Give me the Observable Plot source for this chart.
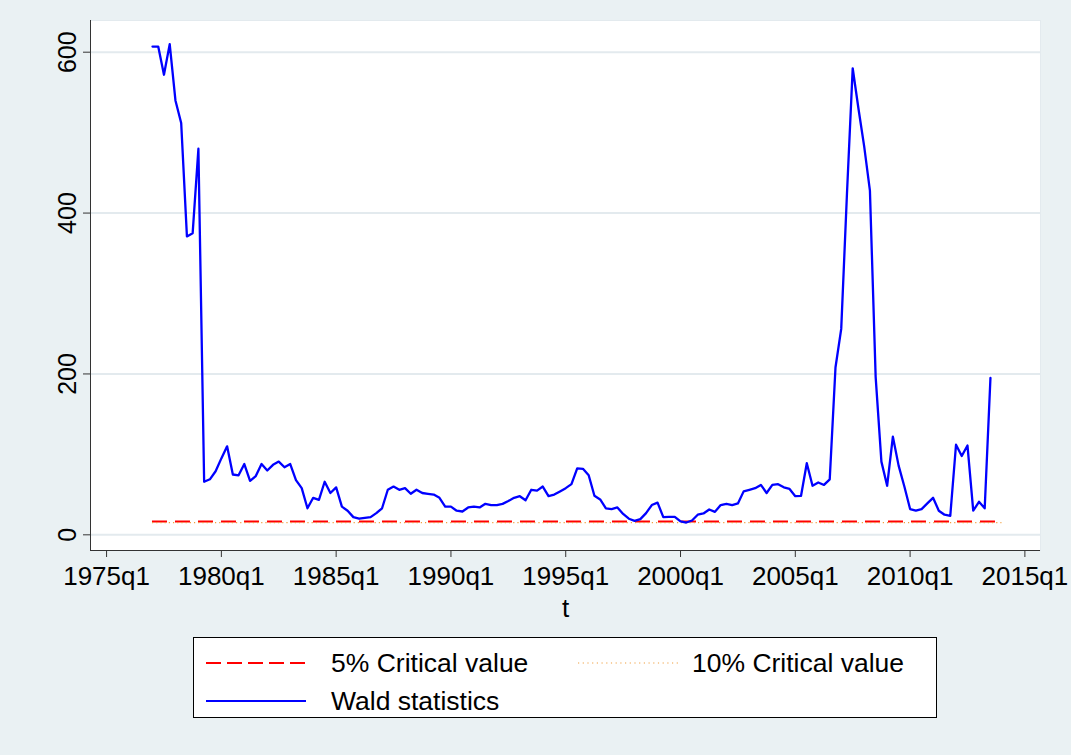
<!DOCTYPE html>
<html>
<head>
<meta charset="utf-8">
<script src="https://cdn.jsdelivr.net/npm/d3@7"></script>
<script src="https://cdn.jsdelivr.net/npm/@observablehq/plot@0.6"></script>
<style>
  html, body { margin: 0; padding: 0; background: #eaf1f3; }
  body { width: 1071px; height: 755px; overflow: hidden; position: relative; font-family: "Liberation Sans", Arial, sans-serif; }
  #chart { position: absolute; left: 0; top: 0; }
  #legend { position: absolute; left: 193px; top: 637px; width: 744px; height: 81px; box-sizing: border-box; border: 1px solid #000; background: #fff; }
  .item { position: absolute; height: 30px; display: flex; align-items: center; font-size: 26.5px; color: #000; white-space: nowrap; }
  .item svg { display: block; }
</style>
</head>
<body>
<div id="chart"></div>
<div id="legend"></div>
<script>
// ---- data ----
const waldStartYear = 1977;      // first observation: 1977q1
const waldStartQuarter = 1;
const waldValues = [
  607, 607, 572, 610, 540, 512, 371, 375, 480, 66,
  69, 79, 95, 110, 75, 74, 88, 67, 73, 88,
  80, 87, 91, 84, 88, 68, 58, 33, 46, 43.5,
  66, 52, 59, 35, 30, 22, 20, 21, 22, 27,
  33, 56, 60, 56, 58, 51, 56, 52, 51, 50,
  46, 35, 35, 30, 29, 34, 35, 34, 38.5, 37,
  37, 38.5, 42, 46, 48, 43, 56, 55, 60, 48,
  50, 54, 58, 63, 82.5, 82, 74, 48.5, 44, 33,
  32, 34, 26, 20, 17.4, 19.5, 27, 37, 40, 22,
  22.4, 22.4, 16.6, 15.3, 17.8, 25, 26.5, 31.5, 28.6, 37,
  38.5, 37, 39, 54, 56, 58, 62, 52, 62, 63,
  59, 57, 48, 48.5, 89, 61, 65, 62, 69, 208,
  256, 424, 580, 530, 483, 428, 196, 91, 61, 122,
  86, 60, 32, 30, 32, 39, 46, 30, 25, 23.6,
  112, 98, 111, 30, 41, 33, 195
];
const critStartYear = 1977;   // critical value lines span 1977q1 .. 2014q1
const critEndYear = 2014;
const crit5 = 16.5;
const crit10 = 15.2;
const xTickYears = [1975, 1980, 1985, 1990, 1995, 2000, 2005, 2010, 2015];
const yTicks = [0, 200, 400, 600];
const seriesNames = ["5% Critical value", "10% Critical value", "Wald statistics"];
const seriesColors = ["#ff0000", "#f0a040", "#0000ff"];

// ---- derived tables ----
const wald = waldValues.map((v, i) => ({
  t: waldStartYear + (waldStartQuarter - 1 + i) / 4,
  v
}));
const critRows = [
  {x1: critStartYear, x2: critEndYear, y: crit5, s: seriesNames[0]},
  {x1: critStartYear, x2: critEndYear, y: crit10, s: seriesNames[1]}
];

const chart = Plot.plot({
  width: 1071,
  height: 625,
  marginLeft: 90,
  marginRight: 31,
  marginTop: 20,
  marginBottom: 75,
  style: {background: "transparent", fontFamily: "Liberation Sans, Arial, sans-serif", color: "#000"},
  x: {domain: [1974.30, 2015.68]},
  y: {domain: [-19.5, 639.4]},
  marks: [
    Plot.frame({fill: "#ffffff", stroke: "#e3eaee"}),
    Plot.gridY(yTicks, {stroke: "#e3eaee", strokeOpacity: 1, strokeWidth: 2}),
    Plot.ruleX([1974.30], {stroke: "#333", strokeWidth: 1}),
    Plot.ruleY([-19.5], {stroke: "#333", strokeWidth: 1}),
    Plot.axisX({ticks: xTickYears, tickFormat: d => `${d}q1`, tickSize: 7, tickPadding: 9, fontSize: 26, label: null, stroke: "#333"}),
    Plot.axisY({ticks: yTicks, tickSize: 7, tickPadding: 8, tickRotate: -90, fontSize: 25, label: null, stroke: "#333"}),
    Plot.text(["t"], {frameAnchor: "bottom", dy: 66, fontSize: 26, fill: "#000"}),
    Plot.ruleY([critRows[0]], {y: "y", x1: "x1", x2: "x2", stroke: seriesColors[0], strokeWidth: 2, strokeDasharray: "15,8"}),
    Plot.ruleY([critRows[1]], {y: "y", x1: "x1", x2: "x2", stroke: seriesColors[1], strokeWidth: 1.2, strokeDasharray: "1.2,3"}),
    Plot.lineY(wald, {x: "t", y: "v", stroke: seriesColors[2], strokeWidth: 2.3})
  ]
});
document.getElementById("chart").append(chart);

// ---- legend ----
const legend = document.getElementById("legend");
const legendItems = [
  {name: seriesNames[0], color: seriesColors[0], dash: "15,6", w: 2, left: 12, top: 10, gap: 25},
  {name: seriesNames[1], color: seriesColors[1], dash: "1.2,3.5", w: 1.2, left: 384, top: 10, gap: 14},
  {name: seriesNames[2], color: seriesColors[2], dash: null, w: 2, left: 12, top: 48, gap: 25}
];
for (const it of legendItems) {
  const div = document.createElement("div");
  div.className = "item";
  div.style.left = it.left + "px";
  div.style.top = it.top + "px";
  const ns = "http://www.w3.org/2000/svg";
  const svg = document.createElementNS(ns, "svg");
  svg.setAttribute("width", 100);
  svg.setAttribute("height", 10);
  svg.style.marginRight = it.gap + "px";
  const ln = document.createElementNS(ns, "line");
  ln.setAttribute("x1", 0); ln.setAttribute("x2", 100);
  ln.setAttribute("y1", 5); ln.setAttribute("y2", 5);
  ln.setAttribute("stroke", it.color);
  ln.setAttribute("stroke-width", it.w);
  if (it.dash) ln.setAttribute("stroke-dasharray", it.dash);
  svg.append(ln);
  div.append(svg);
  const span = document.createElement("span");
  span.textContent = it.name;
  div.append(span);
  legend.append(div);
}
</script>
</body>
</html>
